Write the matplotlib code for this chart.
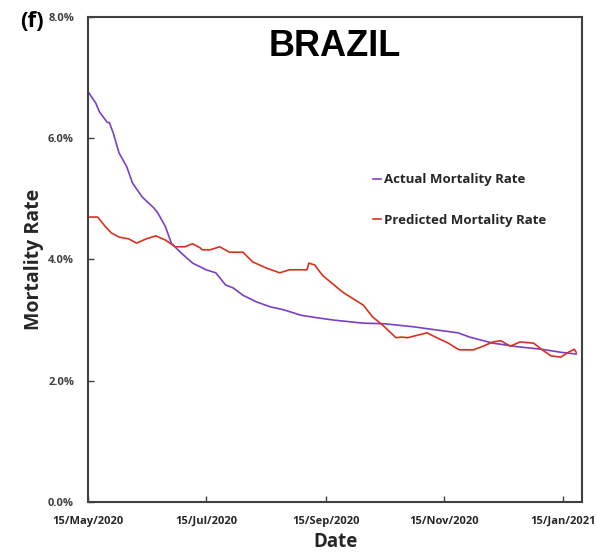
import pandas as pd
import matplotlib
matplotlib.use("Agg")
import matplotlib.pyplot as plt
from matplotlib.ticker import FuncFormatter

# days after 15/May/2020, values in %
actual_days = [0, 4, 6, 10, 11, 13, 16, 20, 23, 28, 34, 36, 40, 43, 48, 54, 61, 66,
               71, 75, 80, 87, 94, 101, 110, 118, 127, 142, 153, 168, 177, 191,
               197, 209, 222, 234, 244, 252]
actual_rate = [6.77, 6.58, 6.43, 6.26, 6.26, 6.09, 5.76, 5.53, 5.26, 5.03, 4.85, 4.77,
               4.54, 4.27, 4.11, 3.94, 3.83, 3.78, 3.58, 3.53, 3.41, 3.30, 3.22, 3.17,
               3.08, 3.04, 3.00, 2.95, 2.94, 2.89, 2.85, 2.79, 2.72, 2.62, 2.56, 2.52,
               2.47, 2.44]

pred_days = [0, 5, 9, 12, 16, 21, 25, 30, 35, 40, 45, 50, 54, 58, 59, 63, 68, 73, 80,
             85, 92, 99, 104, 110, 113, 114, 117, 121, 127, 130, 132, 142, 147, 152,
             159, 162, 165, 170, 175, 180, 186, 191, 192, 199, 204, 209, 213, 218,
             223, 230, 234, 239, 244, 248, 251, 252]
pred_rate = [4.70, 4.70, 4.54, 4.44, 4.37, 4.34, 4.27, 4.34, 4.39, 4.32, 4.21, 4.21,
             4.26, 4.19, 4.16, 4.16, 4.21, 4.12, 4.12, 3.96, 3.86, 3.78, 3.83, 3.83,
             3.83, 3.94, 3.91, 3.74, 3.58, 3.50, 3.45, 3.25, 3.05, 2.92, 2.71, 2.72,
             2.71, 2.75, 2.79, 2.71, 2.62, 2.52, 2.51, 2.51, 2.57, 2.64, 2.66, 2.57,
             2.64, 2.62, 2.52, 2.41, 2.39, 2.47, 2.52, 2.47]

start = pd.Timestamp("2020-05-15")
actual_dates = start + pd.to_timedelta(actual_days, unit="D")
pred_dates = start + pd.to_timedelta(pred_days, unit="D")

tick_dates = pd.to_datetime(["2020-05-15", "2020-07-15", "2020-09-15", "2020-11-15", "2021-01-15"])
tick_labels = ["15/May/2020", "15/Jul/2020", "15/Sep/2020", "15/Nov/2020", "15/Jan/2021"]

plt.rcParams["font.family"] = ["Open Sans", "DejaVu Sans"]

fig = plt.figure(figsize=(5.97, 5.54), dpi=100)
ax = fig.add_axes([0.1474, 0.0939, 0.8275, 0.8754])

ax.plot(actual_dates, actual_rate, color="#7B3FC4", lw=1.2, label="Actual Mortality Rate")
ax.plot(pred_dates, pred_rate, color="#D8321E", lw=1.2, label="Predicted Mortality Rate")

ax.set_ylim(0, 8)
ax.set_yticks([0, 2, 4, 6, 8])
ax.yaxis.set_major_formatter(FuncFormatter(lambda v, p: f"{v:.1f}%"))
ax.set_xlim(start, start + pd.Timedelta(days=255))
ax.set_xticks(tick_dates)
ax.set_xticklabels(tick_labels)

for s in ax.spines.values():
    s.set_color("#404040")
    s.set_linewidth(1.5)
ax.tick_params(direction="in", length=4, width=1, color="#404040")
ax.tick_params(axis="y", labelsize=8, labelcolor="#404040", pad=10)
ax.tick_params(axis="x", labelsize=8, labelcolor="#262626", pad=10)
for lab in ax.get_xticklabels() + ax.get_yticklabels():
    lab.set_fontweight("bold")

ax.set_xlabel("Date", fontsize=13.5, fontweight="bold", color="#262626", labelpad=4)
ax.set_ylabel("Mortality Rate", fontsize=14, fontweight="bold", color="#262626", labelpad=3)

ax.text(0.5, 0.94, "BRAZIL", transform=ax.transAxes, ha="center", va="center",
        fontsize=26, fontweight="bold", family="Liberation Sans")
fig.text(0.033, 0.962, "(f)", fontsize=16, fontweight="bold", ha="left", va="center")

ax.legend(loc="upper left", bbox_to_anchor=(0.553, 0.702), frameon=False,
          handlelength=0.6, handletextpad=0.2, labelspacing=2.1,
          prop={"size": 9.5, "weight": "bold"}, labelcolor="#262626")

fig.savefig("out.png", dpi=100)
